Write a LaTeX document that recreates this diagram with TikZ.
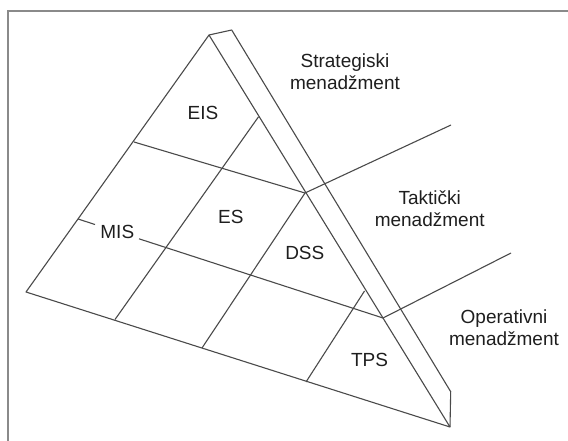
\documentclass[tikz,border=0pt]{standalone}
\usepackage{fontspec}
\setmainfont{Liberation Sans}
\definecolor{edgecol}{HTML}{4A4A4A}
\definecolor{framecol}{HTML}{8A8A8A}
\definecolor{txtcol}{HTML}{1E1E1E}
\begin{document}
\begin{tikzpicture}[x=1pt,y=-1pt,
  edge/.style={draw=edgecol,line width=1.1pt,line join=round},
  framestyle/.style={draw=framecol,line width=1.6pt},
  lbl/.style={text=txtcol,inner sep=0pt,font=\fontsize{19}{22}\selectfont},
  level/.style={lbl,align=center,anchor=base}]
\useasboundingbox (0,0) rectangle (568,441);
% frame (only top and left visible)
\coordinate (F1) at (8,445);
\coordinate (F2) at (8,11);
\coordinate (F3) at (572,11);
\draw[framestyle] (F1) -- (F2) -- (F3);
% pyramid corners
\coordinate (A) at (209,35);
\coordinate (B) at (231.7,30);
\coordinate (C) at (26,292);
\coordinate (D) at (450,427);
\coordinate (E) at (450.7,391.7);
% level dividers
\coordinate (P1) at (134,142);
\coordinate (Q1) at (305,193);
\coordinate (T1) at (451,125);
\coordinate (P2) at (78,219);
\coordinate (M1) at (95,224.5);
\coordinate (M2) at (139,238.8);
\coordinate (Q2) at (383,318);
\coordinate (T2) at (511,253);
% system dividers
\coordinate (V1b) at (115,319.5);
\coordinate (V1t) at (258.5,116.8);
\coordinate (V2b) at (202,348);
\coordinate (V3b) at (306,382);
\coordinate (V3t) at (364.5,291);
% outline
\draw[edge] (A) -- (C) -- (D) -- cycle;
\draw[edge] (A) -- (B) -- (E) -- (D);
% levels
\draw[edge] (P1) -- (Q1) -- (T1);
\draw[edge] (P2) -- (M1);
\draw[edge] (M2) -- (Q2) -- (T2);
% verticals
\draw[edge] (V1b) -- (V1t);
\draw[edge] (V2b) -- (Q1);
\draw[edge] (V3b) -- (V3t);
% system labels
\node[lbl] (eis) at (203,113.3) {EIS};
\node[lbl] (es) at (230.8,216.7) {ES};
\node[lbl] (dss) at (304.8,253) {DSS};
\node[lbl] (mis) at (117.3,231.7) {MIS};
\node[lbl] (tps) at (369.5,360) {TPS};
% management levels (base anchor = baseline of last line)
\node[level] (strat) at (345,89.3) {Strategiski\\menadžment};
\node[level] (takt) at (429.7,226) {Taktički\\menadžment};
\node[level] (oper) at (504,345) {Operativni\\menadžment};
\end{tikzpicture}
\end{document}
